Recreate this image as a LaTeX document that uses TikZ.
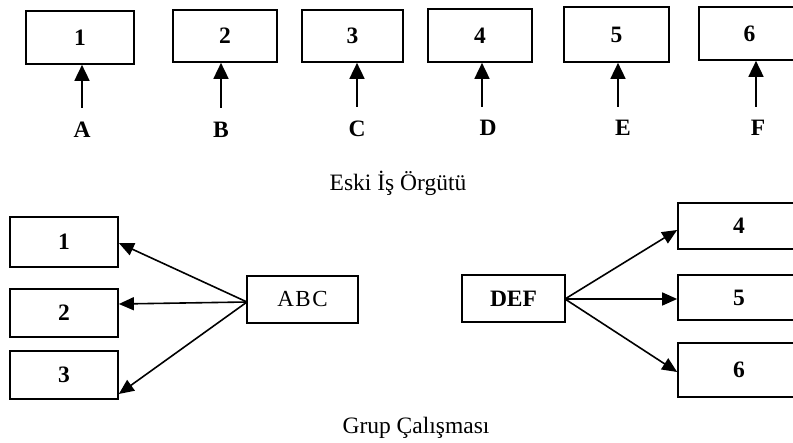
\documentclass[tikz,border=0pt]{standalone}
\usepackage{fontspec}
\setmainfont{Liberation Serif}
\usetikzlibrary{arrows.meta}
\begin{document}
\begin{tikzpicture}[x=1pt,y=-1pt,
  box/.style={draw=black,line width=1.7pt,rectangle,inner sep=0pt,
    font=\fontsize{23.5}{26}\selectfont\bfseries},
  lbl/.style={inner sep=0pt,font=\fontsize{23.5}{26}\selectfont\bfseries},
  titletext/.style={inner sep=0pt,font=\fontsize{23.5}{26}\selectfont},
  uparr/.style={line width=1.7pt,-{Triangle[length=16pt,width=15pt]}},
  sidearr/.style={line width=1.6pt,-{Triangle[length=15pt,width=13pt]}}]
\useasboundingbox (0,0) rectangle (793,443);
\clip (0,0) rectangle (793,443);

% old work organisation: one box per task
\node[box,minimum width=108pt,minimum height=53pt] (t1) at (80,37.5) {1};
\node[box,minimum width=104pt,minimum height=52pt] (t2) at (225,36) {2};
\node[box,minimum width=101pt,minimum height=52pt] (t3) at (352.5,36) {3};
\node[box,minimum width=104pt,minimum height=53pt] (t4) at (480,35.5) {4};
\node[box,minimum width=105pt,minimum height=55pt] (t5) at (616.5,34.5) {5};
\node[box,minimum width=101pt,minimum height=53pt] (t6) at (749.5,33.5) {6};

\node[lbl] (la) at (82,130) {A};
\node[lbl] (lb) at (221,130) {B};
\node[lbl] (lc) at (357,129) {C};
\node[lbl] (ld) at (488,128) {D};
\node[lbl] (le) at (623,128) {E};
\node[lbl] (lf) at (758,128) {F};

\coordinate (sa) at (82,108);
\coordinate (sb) at (221,108);
\coordinate (sc) at (357,107);
\coordinate (sd) at (482,107);
\coordinate (se) at (618,107);
\coordinate (sf) at (756,107);

\draw[uparr] (sa) -- (sa |- t1.south);
\draw[uparr] (sb) -- (sb |- t2.south);
\draw[uparr] (sc) -- (sc |- t3.south);
\draw[uparr] (sd) -- (sd |- t4.south);
\draw[uparr] (se) -- (se |- t5.south);
\draw[uparr] (sf) -- (sf |- t6.south);

\node[titletext] (eski) at (398,183) {Eski İş Örgütü};

% group work: ABC feeds tasks 1-3, DEF feeds tasks 4-6
\node[box,minimum width=108pt,minimum height=50pt] (g1) at (64,242) {1};
\node[box,minimum width=108pt,minimum height=48pt] (g2) at (64,313) {2};
\node[box,minimum width=108pt,minimum height=48pt] (g3) at (64,375) {3};
\node[box,minimum width=111pt,minimum height=47pt,font=\fontsize{23}{26}\selectfont] (abc) at (302.5,299.5) {A\kern1.5pt B\kern1.5pt C};

\node[box,minimum width=103pt,minimum height=47pt] (def) at (513.5,298.5) {DEF};
\node[box,minimum width=122pt,minimum height=46pt] (g4) at (739,226) {4};
\node[box,minimum width=122pt,minimum height=45pt] (g5) at (739,297.5) {5};
\node[box,minimum width=122pt,minimum height=54pt] (g6) at (739,370) {6};

\coordinate (ao) at (247,302);
\draw[sidearr] (ao) -- (g1.east |- 0,243);
\draw[sidearr] (ao) -- (g2.east |- 0,304);
\draw[sidearr] (ao) -- (g3.east |- 0,394);

\coordinate (do) at (565,299);
\draw[sidearr] (do) -- (g4.west |- 0,230);
\draw[sidearr] (do) -- (g5.west |- 0,299);
\draw[sidearr] (do) -- (g6.west |- 0,372);

\node[titletext] (grup) at (416,428) {Grup Çalışması};
\end{tikzpicture}
\end{document}
